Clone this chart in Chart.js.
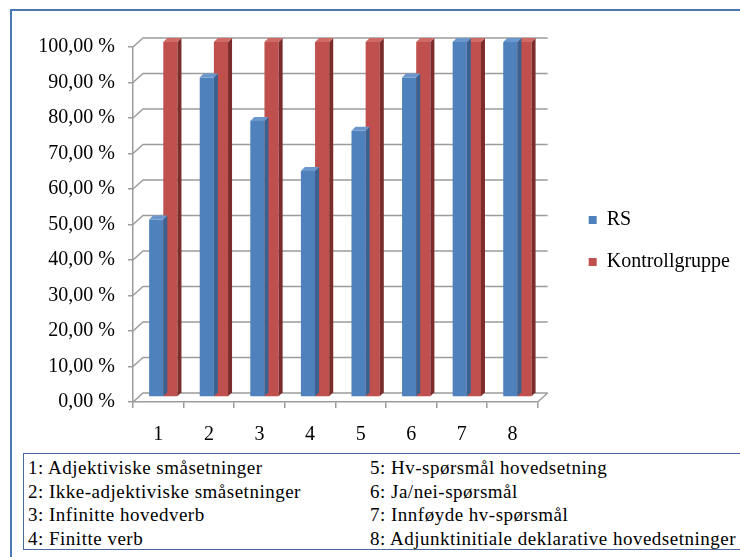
<!DOCTYPE html>
<html>
<head>
<meta charset="utf-8">
<script src="https://cdn.jsdelivr.net/npm/chart.js@4.4.0/dist/chart.umd.min.js"></script>
<style>
  body { margin: 0; background: #fff; width: 740px; height: 557px; overflow: hidden; position: relative; }
  #frame { position: absolute; left: 10px; top: 9px; width: 800px; height: 600px; border: 2px solid #4a78b3; }
  #wrap { position: absolute; left: 0; top: 0; width: 740px; height: 452px; }
  #key { position: absolute; left: 23px; top: 453px; width: 760px; height: 95px; border: 1.5px solid #4a6a9c;
         font-family: 'Liberation Serif'; font-size: 19px; letter-spacing: 0.5px; color: #000; }
  #key div { position: absolute; line-height: 23.6px; white-space: nowrap; }
</style>
</head>
<body>
<div id="frame"></div>
<div id="wrap"><canvas id="myChart"></canvas></div>
<div id="key">
  <div style="left:4px;top:2px" id="k1"></div>
  <div style="left:346px;top:2px" id="k2"></div>
</div>
<script>
// data
var kategorier = ['1', '2', '3', '4', '5', '6', '7', '8'];
var rs = [0.50, 0.90, 0.7778, 0.6364, 0.75, 0.90, 1.00, 1.00];
var kontroll = [1.00, 1.00, 1.00, 1.00, 1.00, 1.00, 1.00, 1.00];
var forklaring = [
  '1: Adjektiviske småsetninger',
  '2: Ikke-adjektiviske småsetninger',
  '3: Infinitte hovedverb',
  '4: Finitte verb',
  '5: Hv-spørsmål hovedsetning',
  '6: Ja/nei-spørsmål',
  '7: Innføyde hv-spørsmål',
  '8: Adjunktinitiale deklarative hovedsetninger'
];

document.getElementById('k1').innerHTML = forklaring.slice(0, 4).join('<br>');
document.getElementById('k2').innerHTML = forklaring.slice(4).join('<br>');

var serif = "'Liberation Serif'";
var grid = '#9c9c9c';
var DX = 10, DY = -9;   // dybde for bakveggen

// bakvegg og gulv, tegnet fra skalaene
var vegg = {
    id: 'vegg',
    beforeDatasetsDraw: function(chart) {
        var c = chart.ctx, y = chart.scales.y, a = chart.chartArea;
        c.save();
        c.strokeStyle = grid;
        c.lineWidth = 1.5;
        y.ticks.forEach(function(t) {
            var py = y.getPixelForValue(t.value);
            c.beginPath();
            c.moveTo(a.left, py);
            c.lineTo(a.left + DX, py + DY);
            c.lineTo(a.right + DX, py + DY);
            c.stroke();
        });
        c.beginPath();
        c.moveTo(a.right, a.bottom);
        c.lineTo(a.right + DX, a.bottom + DY);
        c.stroke();
        c.restore();
        // søylene står midt i dybden
        c.save();
        c.translate(5, -5);
    },
    afterDatasetDraw: function(chart, args) {
        var c = chart.ctx;
        var side = ['#3b6190', '#7c2c2a'][args.index];
        var topp = ['#6b97cc', '#cf6a67'][args.index];
        var d = 4;
        args.meta.data.forEach(function(b) {
            var x0 = b.x - b.width / 2, x1 = b.x + b.width / 2;
            c.fillStyle = side;
            c.beginPath();
            c.moveTo(x1, b.y); c.lineTo(x1 + d, b.y - d); c.lineTo(x1 + d, b.base - d); c.lineTo(x1, b.base);
            c.closePath(); c.fill();
            c.fillStyle = topp;
            c.beginPath();
            c.moveTo(x0, b.y); c.lineTo(x0 + d, b.y - d); c.lineTo(x1 + d, b.y - d); c.lineTo(x1, b.y);
            c.closePath(); c.fill();
        });
    },
    afterDatasetsDraw: function(chart) {
        chart.ctx.restore();
    }
};

var ctx = document.getElementById('myChart').getContext('2d');
var chart = new Chart(ctx, {
    type: 'bar',
    data: {
        labels: kategorier,
        datasets: [{
            label: 'RS',
            data: rs,
            backgroundColor: '#4f81bd'
        }, {
            label: 'Kontrollgruppe',
            data: kontroll,
            backgroundColor: '#c0504d'
        }]
    },
    options: {
        responsive: true,
        maintainAspectRatio: false,
        animation: false,
        categoryPercentage: 0.56,
        barPercentage: 1.0,
        layout: { padding: { left: 20, top: 38, right: 0, bottom: 8 } },
        plugins: {
            legend: {
                position: 'right',
                maxWidth: 220,
                labels: {
                    font: { family: serif, size: 20 },
                    color: '#000',
                    boxWidth: 8,
                    boxHeight: 8,
                    padding: 22
                }
            },
            tooltip: { enabled: false }
        },
        scales: {
            x: {
                grid: { drawOnChartArea: false, color: grid, tickLength: 6, lineWidth: 1.5 },
                border: { color: grid, width: 1.5 },
                ticks: { font: { family: serif, size: 20 }, color: '#000', padding: 15 },
                afterFit: function(s) { s.height = 42; }
            },
            y: {
                min: 0,
                max: 1,
                grid: { drawOnChartArea: false, color: grid, tickLength: 5, lineWidth: 1.5 },
                border: { color: grid, width: 1.5 },
                ticks: {
                    stepSize: 0.1,
                    font: { family: serif, size: 20 },
                    color: '#000',
                    padding: 13,
                    callback: function(v) { return (v * 100).toFixed(2).replace('.', ',') + ' %'; }
                },
                afterFit: function(s) { s.width = 113; }
            },
            // tomme akser som gir luft rundt plottet
            luft: {
                position: 'right',
                grid: { display: false },
                border: { display: false },
                ticks: { display: false },
                afterFit: function(s) { s.width = 29; }
            },
            toppluft: {
                position: 'top',
                grid: { display: false },
                border: { display: false },
                ticks: { display: false },
                afterFit: function(s) { s.height = 9; }
            }
        }
    },
    plugins: [vegg]
});
</script>
</body>
</html>
